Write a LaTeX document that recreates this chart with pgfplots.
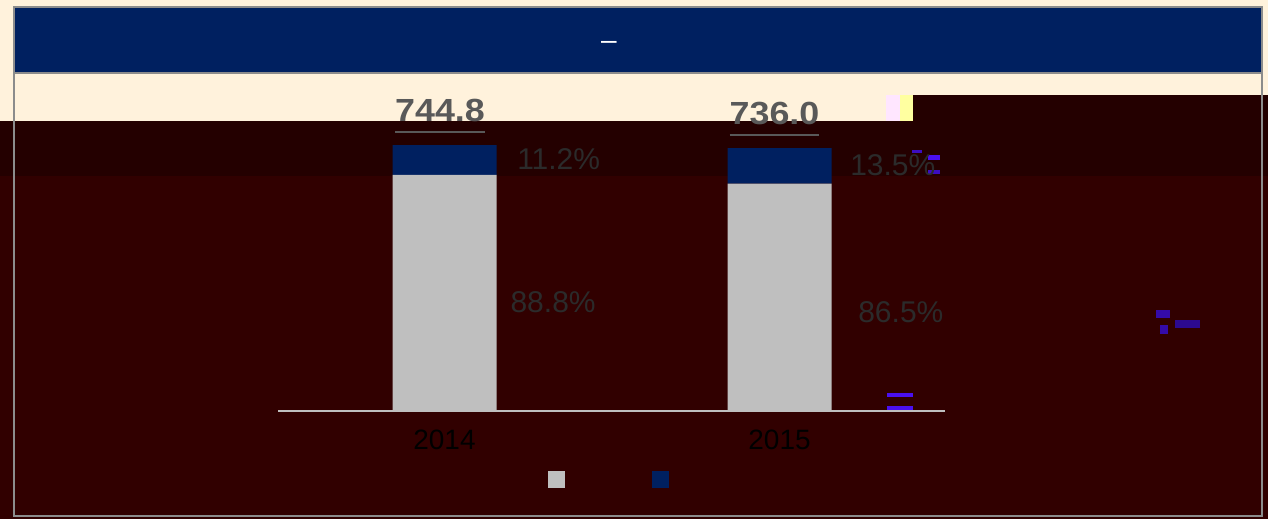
\documentclass[border=0pt]{standalone}
\usepackage{fontspec}
\setmainfont{Liberation Sans}
\usepackage{graphicx}
\usepackage{pgfplots}
\pgfplotsset{compat=1.18}
\definecolor{navy}{HTML}{002060}
\definecolor{barGray}{HTML}{BFBFBF}
\definecolor{cream}{HTML}{FFF2DC}
\definecolor{maroonMain}{HTML}{310000}
\definecolor{maroonDark}{HTML}{240000}
\definecolor{frameGray}{HTML}{8C8C8C}
\definecolor{valGray}{HTML}{595959}
\definecolor{pctGray}{HTML}{2B2B2B}
\definecolor{artBlue}{HTML}{4A10F0}
\definecolor{palePink}{HTML}{FFE6FF}
\definecolor{paleYellow}{HTML}{FFFFA0}

\pgfplotstableread{
x val
0 661.4
1 636.6
}\grayseries
\pgfplotstableread{
x val
0 83.4
1 99.4
}\navyseries

\begin{document}
\begin{tikzpicture}
\begin{scope}[x=0.5pt,y=-0.5pt]
  \fill[cream] (0,0) rectangle (1268,519);
  \fill[maroonMain] (0,121) rectangle (1268,519);
  \fill[maroonDark] (0,121) rectangle (1268,176);
  \fill[maroonDark] (913,95) rectangle (1268,176);
  \fill[palePink] (886,95) rectangle (900,121);
  \fill[paleYellow] (900,95) rectangle (913,121);
  \fill[navy] (14,7) rectangle (1262,73);
  \draw[frameGray, line width=0.75pt] (14,7) rectangle (1262,73);
  \draw[frameGray, line width=0.75pt] (14,73) -- (14,516) -- (1262,516) -- (1262,73);
  \node[white, font=\fontsize{14}{16}\selectfont, inner sep=0pt] at (609,45) {–};
  % image artefacts
  \fill[artBlue] (887,393) rectangle (913,397);
  \fill[artBlue] (887,406) rectangle (913,410);
  \fill[artBlue!80!black] (912,150) rectangle (922,153);
  \fill[artBlue] (928,155) rectangle (940,160);
  \fill[artBlue!80!black] (928,170) rectangle (940,174);
  \fill[artBlue!70!black] (1156,310) rectangle (1170,318);
  \fill[artBlue!70!black] (1160,325) rectangle (1168,334);
  \fill[artBlue!60!black] (1175,320) rectangle (1200,328);
\end{scope}
\begin{axis}[
  at={(139pt,-205.5pt)}, anchor=south west,
  scale only axis,
  width=333.5pt, height=178.57pt,
  xmin=-0.497, xmax=1.494,
  ymin=0, ymax=1000,
  ybar stacked, bar width=52pt,
  axis x line=bottom, axis y line=none,
  axis line style={draw=barGray, line width=1pt, -},
  xtick={0,1}, xticklabels={2014,2015},
  major tick length=0pt,
  xticklabel style={font=\fontsize{14}{16}\selectfont, text=black, yshift=-6pt},
  clip=false,
  legend columns=2,
  legend style={at={(0.4048,-0.1919)}, anchor=west, draw=none, fill=none,
    inner sep=0pt, outer sep=0pt, nodes={inner sep=0pt},
    /tikz/every even column/.append style={column sep=0pt},
    /tikz/every odd column/.append style={column sep=0pt}},
  legend image code/.code={\fill[#1] (0pt,-4.25pt) rectangle (8.5pt,4.25pt);},
]
\addplot[fill=barGray, draw=none] table[x=x, y=val] {\grayseries};
\addlegendentry{\hspace*{43.5pt}}
\addplot[fill=navy, draw=none] table[x=x, y=val] {\navyseries};
\addlegendentry{\hspace*{43.5pt}}

\node[anchor=base, inner sep=0pt, text=valGray, xshift=-2.25pt, yshift=12pt] at (axis cs:0,744.8)
  {\scalebox{1.12}[1]{\fontsize{16}{18}\selectfont\bfseries\setbox0\hbox{744.8}\rlap{\rule[-6pt]{\wd0}{1pt}}\box0}};
\node[anchor=base, inner sep=0pt, text=valGray, xshift=-2.5pt, yshift=12pt] at (axis cs:1,736.0)
  {\scalebox{1.12}[1]{\fontsize{16}{18}\selectfont\bfseries\setbox0\hbox{736.0}\rlap{\rule[-6pt]{\wd0}{1pt}}\box0}};

\node[anchor=west, inner sep=0pt, text=pctGray, font=\fontsize{15}{17}\selectfont] at (axis cs:0.216,704.2) {11.2\%};
\node[anchor=west, inner sep=0pt, text=pctGray, font=\fontsize{15}{17}\selectfont] at (axis cs:0.196,303.8) {88.8\%};
\node[anchor=west, inner sep=0pt, text=pctGray, font=\fontsize{15}{17}\selectfont] at (axis cs:1.21,687.4) {13.5\%};
\node[anchor=west, inner sep=0pt, text=pctGray, font=\fontsize{15}{17}\selectfont] at (axis cs:1.234,275.8) {86.5\%};
\end{axis}
\pgfresetboundingbox
\path[use as bounding box] (0,0) rectangle (634pt,-259.5pt);
\end{tikzpicture}
\end{document}
